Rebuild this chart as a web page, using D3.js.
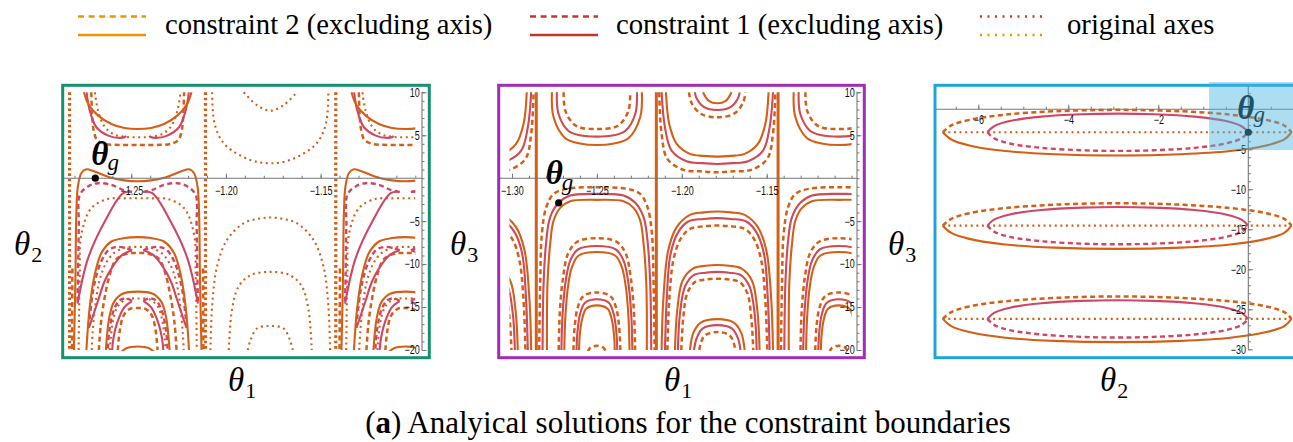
<!DOCTYPE html>
<html>
<head>
<meta charset="utf-8">
<title>Analytical solutions for the constraint boundaries</title>
<script src="https://cdn.jsdelivr.net/npm/d3@7"></script>
<style>
  html, body { margin: 0; padding: 0; background: #ffffff; }
  svg { display: block; }
</style>
</head>
<body>
<svg id="fig" width="1293" height="442"></svg>
<script>
// ================= data =================
const legendLabels = ["constraint 2 (excluding axis)", "constraint 1 (excluding axis)", "original axes"];
const captionTag = "a";
const captionText = " Analyical solutions for the constraint boundaries";

// ---- panel 1 : θ1 (horizontal) vs θ2 (vertical) ----
const p1XDomain = [-1.285, -1.10];
const p1YDomain = [-20, 10];
const p1XTicks = [-1.25, -1.20, -1.15];
const p1YTicks = [10, 5, -5, -10, -15, -20];
const p1Verticals = [-1.2826, -1.2108, -1.1420];
const p1BandCenters = [-1.2466, -1.1053];
const p1QuietCenters = [-1.1766];
const p1Goal = [-1.269, 0.0];
// half-profiles: [distance from band centre, θ2]
const p1SolidSym = [
  [[0, 5.73], [0.007, 5.85], [0.0139, 6.31], [0.0209, 7.28], [0.0261, 8.64], [0.0284, 10]],
  [[0, -0.35], [0.007, -0.25], [0.014, 0.05], [0.0228, 0.78], [0.0272, 1.04], [0.0298, 0.58], [0.0316, -0.97], [0.0324, -4.07], [0.0329, -11.8], [0.0337, -20]],
  [[0, -6.86], [0.007, -6.97], [0.0139, -7.37], [0.0192, -8.72], [0.0227, -11.24], [0.0254, -15.12], [0.0271, -20]],
  [[0, -13.2], [0.008, -13.45], [0.0125, -14.4], [0.015, -16.2], [0.0162, -18.3], [0.0168, -20]],
  [[0, -19.6], [0.006, -19.8], [0.009, -20.3]]
];
const p1DashSym = [
  [[0, 3.87], [0.012, 3.88], [0.0174, 4.0], [0.0215, 4.45], [0.0232, 5.5], [0.024, 7.09], [0.0245, 10]],
  [[0, -8.72], [0.005, -8.76], [0.0112, -9.4], [0.0147, -11.2], [0.0177, -14.2], [0.0195, -17], [0.0205, -20]],
  [[0, -15.1], [0.004, -15.2], [0.0075, -16.0], [0.0095, -17.8], [0.0105, -20]]
];
const p1DashPair = [
  [[0.0345, -10.5], [0.0347, -20]]
];
const p1DotSym = [
  [[0, 4.77], [0.006, 4.8], [0.0125, 5.1], [0.0175, 6.0], [0.021, 7.9], [0.0226, 10]],
  [[0, -2.33], [0.008, -2.35], [0.0157, -2.41], [0.0245, -3.49], [0.0298, -6.6], [0.0306, -11.24], [0.0312, -20]],
  [[0, -8.0], [0.007, -8.1], [0.013, -8.8], [0.017, -10], [0.0203, -12], [0.0225, -15], [0.0238, -18], [0.0243, -20]],
  [[0, -14.0], [0.006, -14.1], [0.0105, -14.9], [0.013, -16.6], [0.0142, -18.6], [0.0147, -20]]
];
const p1RedPair = [
  [[0.0062, 4.95], [0.0068, 4.8], [0.0095, 4.69], [0.0156, 4.96], [0.0218, 5.93], [0.0253, 7.86], [0.027, 10]],
  [[0.003, -1.6], [0.0077, -1.74], [0.0174, -5.05], [0.0262, -9.3], [0.0318, -14.6]],
  [[0.003, -8.4], [0.008, -8.9], [0.013, -10.2], [0.0175, -12.0], [0.021, -14.3], [0.0245, -16.6], [0.0258, -17.4]],
  [[0.003, -14.3], [0.007, -15.0], [0.0105, -16.6], [0.0128, -18.6], [0.0135, -20]]
];
const p1RedDashPair = [
  [[0.003, -1.6], [0.0077, -1.36], [0.0139, -0.78], [0.021, -0.58], [0.0262, -0.97], [0.0306, -1.94], [0.0311, -5.4], [0.0315, -11.2], [0.0318, -14.6]],
  [[0.003, -8.4], [0.006, -8.15], [0.010, -8.0], [0.015, -8.3], [0.0195, -9.8], [0.0235, -13], [0.0258, -17.4]],
  [[0.003, -14.3], [0.006, -14.0], [0.0095, -14.2], [0.0127, -15.4], [0.015, -17.8], [0.0158, -20]]
];
const p1QuietDotSym = [
  [[0, 1.74], [0.0105, 2.12], [0.0228, 3.67], [0.027, 4.9], [0.0298, 6.78], [0.0307, 10]],
  [[0, 7.86], [0.007, 8.5], [0.014, 10]],
  [[0, -4.58], [0.007, -4.75], [0.014, -5.23], [0.0228, -7.17], [0.0281, -10.27], [0.0307, -14.92], [0.0316, -20]],
  [[0, -10.9], [0.0105, -11.3], [0.0167, -12.6], [0.0202, -15.3], [0.0219, -20]],
  [[0, -17.2], [0.007, -17.5], [0.0105, -18.9], [0.0119, -20]]
];

// ---- panel 2 : θ1 (horizontal) vs θ3 (vertical) ----
const p2XDomain = [-1.30, -1.10];
const p2YDomain = [-20, 10];
const p2XTicks = [-1.30, -1.25, -1.20, -1.15];
const p2YTicks = [10, 5, -5, -10, -15, -20];
const p2Verticals = [-1.2857, -1.2150, -1.1433];
const p2CentersA = [-1.2500, -1.1076];
const p2CentersB = [-1.3215, -1.1791];
const p2Goal = [-1.2725, -2.87];
const p2ASolid = [
  [[0, 3.87], [0.01, 4.05], [0.0186, 4.65], [0.0255, 7.09], [0.0265, 10]],
  [[0, -2.52], [0.0157, -2.68], [0.0216, -3.45], [0.0255, -4.93], [0.0275, -7.64], [0.0291, -12.3], [0.0294, -20]],
  [[0, -8.6], [0.0107, -9.0], [0.0146, -10.3], [0.017, -12.6], [0.0186, -16.2], [0.0192, -20]],
  [[0, -14.8], [0.0063, -15.2], [0.0087, -16.4], [0.0101, -18.3], [0.0105, -20]]
];
const p2ARed = [
  [[0, 4.84], [0.01, 5.0], [0.0167, 5.5], [0.0226, 7.48], [0.0236, 10]],
  [[0, -1.83], [0.0157, -2.02], [0.0226, -2.87], [0.0275, -4.53], [0.0298, -7.26], [0.0314, -12.3], [0.032, -20]],
  [[0, -7.9], [0.0112, -8.3], [0.0157, -9.6], [0.0184, -12], [0.0202, -15.8], [0.0209, -20]],
  [[0, -14.1], [0.007, -14.5], [0.0099, -15.8], [0.0114, -17.8], [0.012, -20]]
];
const p2ADash = [
  [[0, 5.73], [0.009, 5.85], [0.0137, 6.31], [0.0186, 7.86], [0.0196, 10]],
  [[0, -1.05], [0.0177, -1.24], [0.0255, -1.83], [0.0298, -3.37], [0.0324, -6.48], [0.0334, -12.3], [0.034, -20]],
  [[0, -6.98], [0.0116, -7.4], [0.017, -8.8], [0.0199, -11.5], [0.0218, -15.5], [0.0225, -20]],
  [[0, -13.3], [0.0078, -13.7], [0.0112, -15.0], [0.0131, -17.3], [0.0138, -20]],
  [[0, -19.5], [0.0039, -19.75], [0.0053, -20.2]]
];
const p2BSolid = [
  [[0, 2.51], [0.008, 2.6], [0.0161, 2.83], [0.0239, 3.99], [0.0283, 6.31], [0.0302, 10]],
  [[0, 8.72], [0.005, 9.0], [0.0084, 10]],
  [[0, -3.88], [0.008, -3.98], [0.0161, -4.27], [0.0239, -5.70], [0.0289, -8.41], [0.0318, -14.23], [0.0328, -20]],
  [[0, -10.1], [0.007, -10.2], [0.0141, -10.5], [0.0204, -11.9], [0.0236, -15.4], [0.0249, -20]],
  [[0, -16.4], [0.0097, -16.8], [0.0141, -18.0], [0.0161, -20]]
];
const p2BRed = [
  [[0, 1.66], [0.009, 1.75], [0.0181, 1.97], [0.0269, 3.2], [0.0308, 5.9], [0.0328, 10]],
  [[0, 7.94], [0.008, 8.3], [0.0122, 9.3], [0.0132, 10]],
  [[0, -4.65], [0.008, -4.75], [0.0171, -5.04], [0.023, -6.28], [0.0275, -8.8], [0.0298, -14.23], [0.0308, -20]],
  [[0, -10.9], [0.007, -11.0], [0.0141, -11.3], [0.019, -12.6], [0.022, -15.8], [0.0232, -20]],
  [[0, -17.1], [0.0087, -17.5], [0.0121, -18.6], [0.0137, -20]]
];
const p2BDash = [
  [[0, 0.70], [0.01, 0.8], [0.02, 0.97], [0.0294, 2.25], [0.0328, 5.15], [0.0342, 10]],
  [[0, 7.09], [0.0097, 7.5], [0.015, 8.7], [0.0167, 10]],
  [[0, -5.51], [0.008, -5.6], [0.0161, -5.9], [0.0216, -7.06], [0.0259, -9.58], [0.0283, -14.23], [0.0294, -20]],
  [[0, -11.7], [0.007, -11.8], [0.0132, -12.1], [0.0177, -13.4], [0.02, -16.2], [0.0212, -20]],
  [[0, -17.9], [0.0073, -18.3], [0.0097, -19.2], [0.0106, -20]]
];

// ---- panel 3 : θ2 (horizontal) vs θ3 (vertical) ----
const p3XDomain = [-7, 1];
const p3YDomain = [-30, 3.15];
const p3XTicks = [-6, -4, -2];
const p3YTicks = [-5, -10, -15, -20, -25, -30];
const p3Centers = [-2.88, -14.55, -26.2];
const p3Goal = [0, -2.88];
const p3HighlightX = [-0.87, 1.4];
const p3HighlightY = [-5.1, 3.4];
// [θ2, offset of θ3 from the loop's centre line]
const p3AxisLine = [[-6.79, 0], [0.96, 0]];
const p3OrangeUpper = [[-6.79, 0], [-6.6, 0.85], [-6.2, 1.55], [-5.4, 2.2], [-4.3, 2.62], [-2.9, 2.8], [-1.5, 2.62], [-0.4, 2.2], [0.4, 1.55], [0.8, 0.85], [0.96, 0]];
const p3OrangeLower = [[-6.79, 0], [-6.6, -0.9], [-6.2, -1.65], [-5.4, -2.35], [-4.3, -2.75], [-2.9, -2.9], [-1.5, -2.75], [-0.4, -2.35], [0.4, -1.65], [0.8, -0.9], [0.96, 0]];
const p3RedUpper = [[-5.8, 0], [-5.65, 0.75], [-5.3, 1.4], [-4.6, 1.95], [-3.7, 2.25], [-2.9, 2.33], [-2.1, 2.25], [-1.2, 1.95], [-0.5, 1.4], [-0.15, 0.75], [0, 0]];
const p3RedLower = [[-5.8, 0], [-5.65, -0.75], [-5.3, -1.4], [-4.6, -1.95], [-3.7, -2.25], [-2.9, -2.33], [-2.1, -2.25], [-1.2, -1.95], [-0.5, -1.4], [-0.15, -0.75], [0, 0]];

// ================= drawing =================
const svg = d3.select("#fig");
const defs = svg.append("defs");
const SERIF = "'Liberation Serif', 'Times New Roman', serif";
const SANS = "'Liberation Sans', Arial, sans-serif";
const ORANGE = "#d45f16";
const RED = "#cf4766";
const AXIS = "#777777";

const STYLE = {
  c2solid: { stroke: ORANGE, width: 2.1 },
  c2dash:  { stroke: ORANGE, width: 2.5, dash: "5,3.4" },
  c1solid: { stroke: RED, width: 2.1 },
  c1dash:  { stroke: RED, width: 2.4, dash: "5,3.4" },
  axdot:   { stroke: ORANGE, width: 2.1, dash: "2,3.6" },
  overlay: { stroke: ORANGE, width: 1.2, dash: "1.4,2.6", opacity: 0.85 },
  vdot:    { stroke: ORANGE, width: 3.2, dash: "2.6,2.8" },
  vsolid:  { stroke: ORANGE, width: 3 }
};

const smooth = (sx, sy) => d3.line().x(d => sx(d[0])).y(d => sy(d[1])).curve(d3.curveCatmullRom.alpha(0.5));

function addPath(g, pts, sx, sy, key) {
  const st = STYLE[key];
  g.append("path")
    .attr("d", smooth(sx, sy)(pts))
    .attr("fill", "none")
    .attr("stroke", st.stroke)
    .attr("stroke-width", st.width)
    .attr("stroke-dasharray", st.dash || null)
    .attr("stroke-opacity", st.opacity || null)
    .attr("stroke-linejoin", "round");
}
// mirror a half-profile about a band centre
const sym = (prof, c) => prof.slice().reverse().map(([h, v]) => [c - h, v])
  .concat(prof.slice(1).map(([h, v]) => [c + h, v]));
const pair = (prof, c) => [prof.map(([h, v]) => [c - h, v]), prof.map(([h, v]) => [c + h, v])];

function drawBands(g, sx, sy, centers, sets) {
  centers.forEach(c => {
    sets.forEach(([profiles, mode, key]) => {
      profiles.forEach(prof => {
        const curves = mode === "sym" ? [sym(prof, c)] : pair(prof, c);
        curves.forEach(pts => addPath(g, pts, sx, sy, key));
      });
    });
  });
}

function clipGroup(id, x0, x1, y0, y1) {
  defs.append("clipPath").attr("id", id).append("rect")
    .attr("x", x0).attr("y", y0).attr("width", x1 - x0).attr("height", y1 - y0);
  return svg.append("g").attr("clip-path", `url(#${id})`);
}

function tidy(g, fmtScale) {
  g.select(".domain").remove();
  g.attr("font-family", null).attr("font-size", null);
  g.selectAll("line").attr("stroke", AXIS).attr("stroke-width", 1);
  g.selectAll("text")
    .attr("fill", "#111")
    .style("font-family", SANS)
    .style("font-size", "12px")
    .attr("transform", `scale(${fmtScale},1)`);
}

function axes(sx, sy, o) {
  const g = svg.append("g");
  g.append("line").attr("x1", o.xLine[0]).attr("x2", o.xLine[1])
    .attr("y1", sy(0)).attr("y2", sy(0)).attr("stroke", AXIS).attr("stroke-width", 1.1);
  g.append("line").attr("x1", o.yAxisX).attr("x2", o.yAxisX)
    .attr("y1", o.yLine[0]).attr("y2", o.yLine[1]).attr("stroke", AXIS).attr("stroke-width", 1.1);
  // x ticks point up, labels sit below the axis
  tidy(g.append("g").attr("transform", `translate(0,${sy(0)})`)
    .call(d3.axisBottom(sx).tickValues(o.xMinor).tickSizeInner(-2.5).tickSizeOuter(0).tickFormat("")), 0.75);
  tidy(g.append("g").attr("transform", `translate(0,${sy(0)})`)
    .call(d3.axisBottom(sx).tickValues(o.xMajor).tickSizeInner(-4.5).tickSizeOuter(0)
      .tickPadding(o.xPad).tickFormat(o.xFmt)), 0.75);
  // y ticks point right, labels sit left of the axis
  tidy(g.append("g").attr("transform", `translate(${o.yAxisX},0)`)
    .call(d3.axisLeft(sy).tickValues(o.yMinor).tickSizeInner(-2.5).tickSizeOuter(0).tickFormat("")), 0.75);
  tidy(g.append("g").attr("transform", `translate(${o.yAxisX},0)`)
    .call(d3.axisLeft(sy).tickValues(o.yMajor).tickSizeInner(-4.5).tickSizeOuter(0)
      .tickPadding(3).tickFormat(d3.format("d"))), 0.75);
}

function frame(x0, x1, color) {
  svg.append("rect").attr("x", x0).attr("y", 85.3).attr("width", x1 - x0).attr("height", 272.4)
    .attr("fill", "none").attr("stroke", color).attr("stroke-width", 3);
}

function goalLabel(px, py, dx, dy, gdx, gdy) {
  svg.append("circle").attr("cx", px).attr("cy", py).attr("r", 3.6).attr("fill", "#000");
  const t = svg.append("text").attr("x", px + dx).attr("y", py + dy)
    .style("font-family", SERIF).attr("fill", "#000");
  t.append("tspan").text("θ").style("font-weight", "bold").style("font-style", "italic").style("font-size", "33px");
  t.append("tspan").text("g").attr("dx", gdx).attr("dy", gdy).style("font-style", "italic").style("font-size", "23px");
}

function mathTitle(x, y, sub) {
  const t = svg.append("text").attr("x", x).attr("y", y).style("font-family", SERIF).attr("fill", "#000");
  t.append("tspan").text("θ").style("font-style", "italic").style("font-size", "33px");
  t.append("tspan").text(sub).attr("dx", 1).attr("dy", 7).style("font-size", "22px");
}

// ---------- legend ----------
(function legend() {
  const g = svg.append("g");
  const items = [
    { x: 78, top: ["#f39200", "6,4.6"], bottom: ["#f39200", null], tx: 165 },
    { x: 530, top: ["#c0392b", "6,4.6"], bottom: ["#c0392b", null], tx: 616 },
    { x: 980, top: ["#cc3d1f", "2,5.5"], bottom: ["#f39200", "2,5.5"], tx: 1067 }
  ];
  items.forEach((it, i) => {
    const len = i === 2 ? 64 : 68;
    g.append("line").attr("x1", it.x).attr("x2", it.x + len).attr("y1", 16.5).attr("y2", 16.5)
      .attr("stroke", it.top[0]).attr("stroke-width", 2.6).attr("stroke-dasharray", it.top[1]);
    g.append("line").attr("x1", it.x).attr("x2", it.x + len).attr("y1", 35).attr("y2", 35)
      .attr("stroke", it.bottom[0]).attr("stroke-width", 2.6).attr("stroke-dasharray", it.bottom[1]);
    g.append("text").attr("x", it.tx).attr("y", 34).text(legendLabels[i])
      .style("font-family", SERIF).style("font-size", "28.7px").attr("fill", "#000");
  });
})();

// ---------- panel 1 ----------
const p1x = d3.scaleLinear().domain(p1XDomain).range([65, 415.3]);
const p1y = d3.scaleLinear().domain(p1YDomain).range([350, 92.3]);
{
  const g = clipGroup("clip1", p1x(-1.2861), p1x(-1.10), p1y(10) - 1, p1y(-20) + 1);
  drawBands(g, p1x, p1y, p1QuietCenters, [[p1QuietDotSym, "sym", "axdot"]]);
  drawBands(g, p1x, p1y, p1BandCenters, [
    [p1DotSym, "sym", "axdot"],
    [p1DashSym, "sym", "c2dash"],
    [p1DashPair, "pair", "c2dash"],
    [p1RedDashPair, "pair", "c1dash"],
    [p1RedPair, "pair", "c1solid"],
    [p1SolidSym, "sym", "c2solid"]
  ]);
  p1Verticals.forEach(v => addPath(g, [[v, 10], [v, -20]], p1x, p1y, "vdot"));
  axes(p1x, p1y, {
    xLine: [63, 422], yAxisX: 422, yLine: [91.7, 350.7],
    xMajor: p1XTicks, xMinor: d3.range(-128, -109).map(i => i / 100), xPad: 8, xFmt: d3.format(".2f"),
    yMajor: p1YTicks, yMinor: d3.range(-20, 11)
  });
  goalLabel(p1x(p1Goal[0]), p1y(p1Goal[1]), -4, -13, -1, 5);
  frame(62.7, 429.3, "#17906f");
}

// ---------- panel 2 ----------
const p2x = d3.scaleLinear().domain(p2XDomain).range([512, 851.6]);
const p2y = d3.scaleLinear().domain(p2YDomain).range([350, 92.3]);
{
  const g = clipGroup("clip2", p2x(-1.3015), p2x(-1.10), p2y(10) - 1, p2y(-20) + 1);
  const setsA = [[p2ADash, "sym", "c2dash"], [p2ARed, "sym", "c1solid"], [p2ARed, "sym", "overlay"], [p2ASolid, "sym", "c2solid"]];
  const setsB = [[p2BDash, "sym", "c2dash"], [p2BRed, "sym", "c1solid"], [p2BRed, "sym", "overlay"], [p2BSolid, "sym", "c2solid"]];
  drawBands(g, p2x, p2y, p2CentersA, setsA);
  drawBands(g, p2x, p2y, p2CentersB, setsB);
  p2Verticals.forEach(v => addPath(g, [[v, 10], [v, -20]], p2x, p2y, "vsolid"));
  axes(p2x, p2y, {
    xLine: [500, 857], yAxisX: 857, yLine: [91.7, 350.7],
    xMajor: p2XTicks, xMinor: d3.range(-130, -109).map(i => i / 100), xPad: 8, xFmt: d3.format(".2f"),
    yMajor: p2YTicks, yMinor: d3.range(-20, 11)
  });
  goalLabel(p2x(p2Goal[0]), p2y(p2Goal[1]), -13, -19, -1, 6);
  frame(498.7, 864.3, "#a12db6");
}

// ---------- panel 3 ----------
const p3x = d3.scaleLinear().domain(p3XDomain).range([933.3, 1293.3]);
const p3y = d3.scaleLinear().domain(p3YDomain).range([349.3, 84]);
{
  const g = clipGroup("clip3", 936.5, 1293, 86.5, 356);
  const loops = [[p3AxisLine, "axdot"], [p3OrangeUpper, "c2dash"], [p3OrangeLower, "c2solid"], [p3RedUpper, "c1solid"], [p3RedLower, "c1dash"]];
  p3Centers.forEach(cy => {
    loops.forEach(([prof, key]) => addPath(g, prof.map(([x, dy]) => [x, cy + dy]), p3x, p3y, key));
  });
  axes(p3x, p3y, {
    xLine: [936, 1293], yAxisX: p3x(0), yLine: [84, p3y(-30)],
    xMajor: p3XTicks, xMinor: d3.range(-13, 2).map(i => i / 2), xPad: 6, xFmt: d3.format("d"),
    yMajor: p3YTicks, yMinor: d3.range(-30, 4)
  });
  goalLabel(p3x(p3Goal[0]), p3y(p3Goal[1]), -11, -13, -1, 3);
  frame(935, 1320, "#1ea5d7");
  // shaded neighbourhood of θg
  svg.append("rect")
    .attr("x", p3x(p3HighlightX[0])).attr("y", p3y(p3HighlightY[1]))
    .attr("width", p3x(p3HighlightX[1]) - p3x(p3HighlightX[0]))
    .attr("height", p3y(p3HighlightY[0]) - p3y(p3HighlightY[1]))
    .attr("fill", "rgb(70,180,222)").attr("fill-opacity", 0.45);
}

// ---------- axis titles ----------
mathTitle(14, 255, "2");
mathTitle(450, 255, "3");
mathTitle(888, 255, "3");
mathTitle(228, 391, "1");
mathTitle(664, 391, "1");
mathTitle(1100, 391, "2");

// ---------- caption ----------
{
  const t = svg.append("text").attr("x", 688).attr("y", 433).attr("text-anchor", "middle")
    .style("font-family", SERIF).style("font-size", "31px").attr("fill", "#000");
  t.append("tspan").text("(");
  t.append("tspan").text(captionTag).style("font-weight", "bold");
  t.append("tspan").text(")" + captionText);
}
</script>
</body>
</html>
